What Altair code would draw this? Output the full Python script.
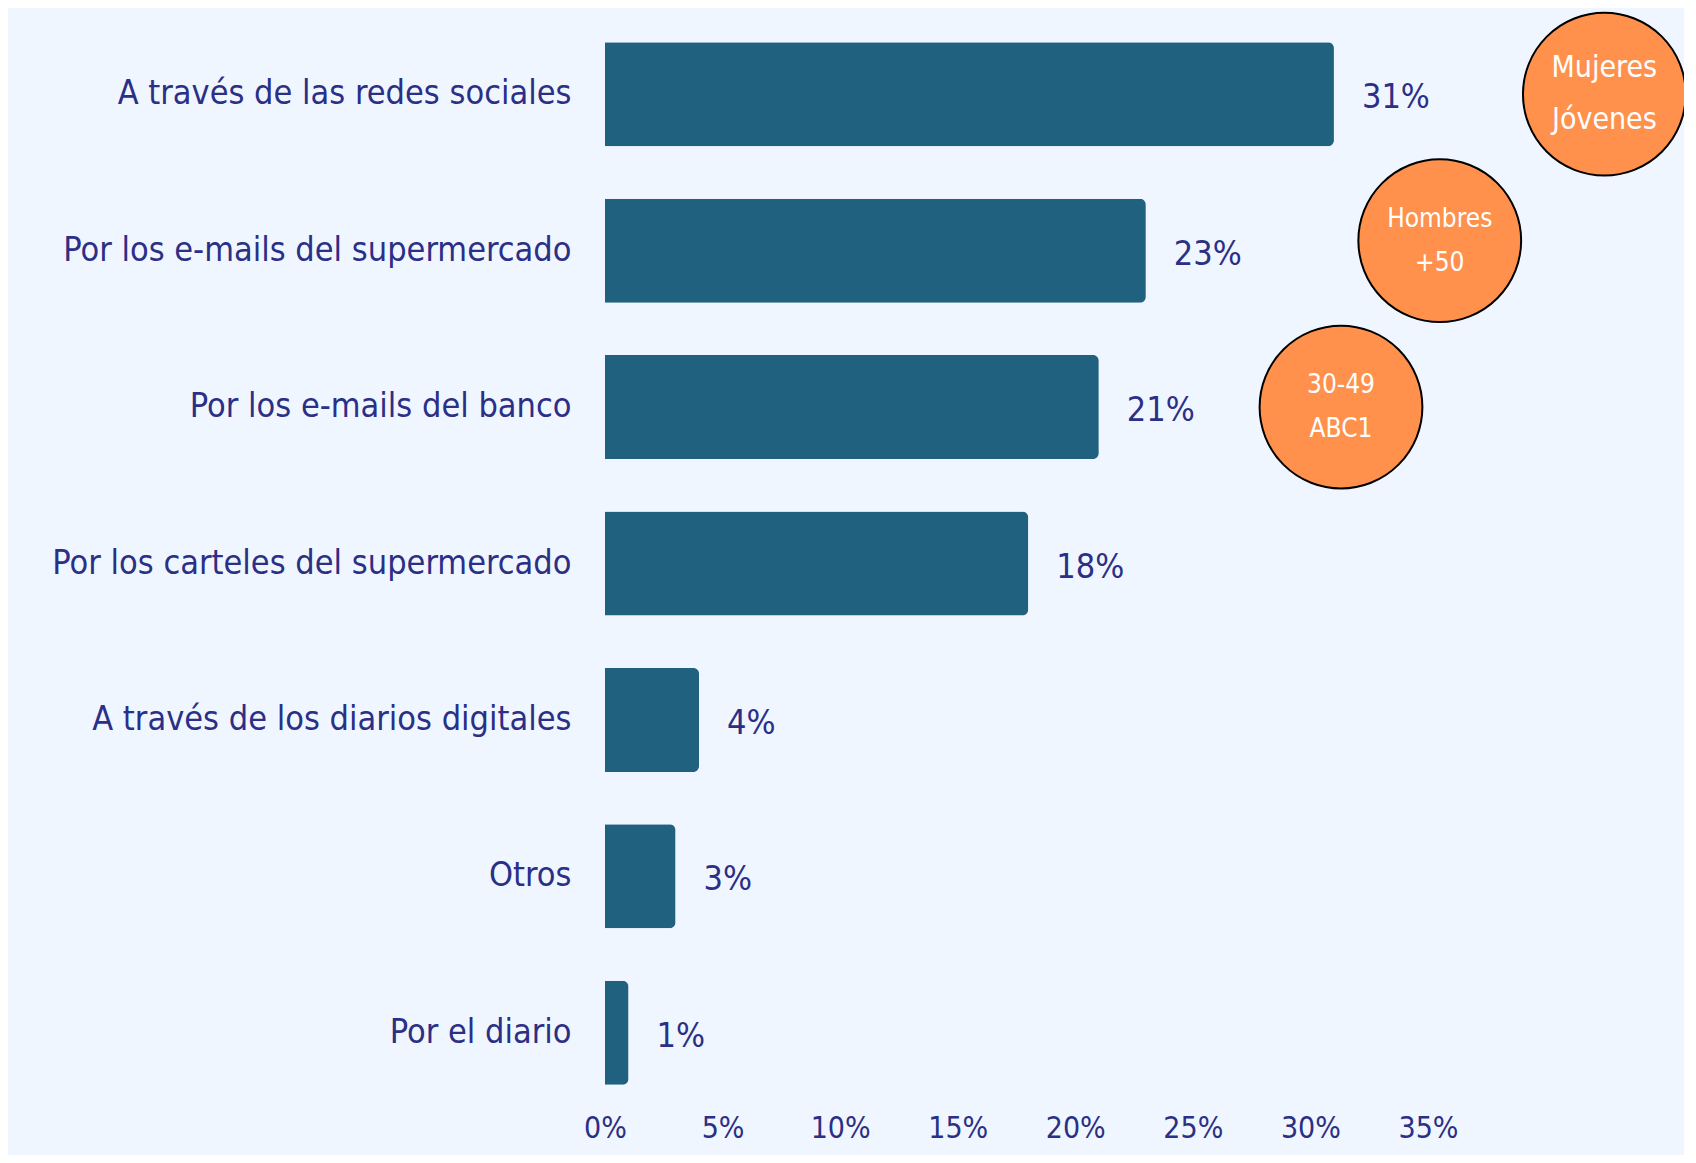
import altair as alt
import pandas as pd

categories = [
    "A través de las redes sociales",
    "Por los e-mails del supermercado",
    "Por los e-mails del banco",
    "Por los carteles del supermercado",
    "A través de los diarios digitales",
    "Otros",
    "Por el diario",
]
values = [31, 23, 21, 18, 4, 3, 1]

bubble_labels = ["Mujeres\nJóvenes", "Hombres\n+50", "30-49\nABC1"]
bubble_rows = [categories[0], categories[1], categories[2]]
bubble_x = [42.5, 35.5, 31.3]
bubble_group = ["big", "raised", "plain"]

df = pd.DataFrame({"cat": categories, "val": values})
df["label"] = [f"{v}%" for v in values]
bub = pd.DataFrame({"cat": bubble_rows, "x": bubble_x, "text": bubble_labels, "grp": bubble_group})

FONT = "DejaVu Sans Condensed, sans-serif"
NAVY = "#2B2F86"
BAR = "#20617F"
ORANGE = "#FF914D"

xscale = alt.Scale(domain=[0, 35], nice=False)
yscale = alt.Scale(domain=categories, paddingInner=0.335, paddingOuter=0.1675)

bars = alt.Chart(df).mark_bar(color=BAR, cornerRadiusEnd=6).encode(
    x=alt.X("val:Q", scale=xscale,
            axis=alt.Axis(values=[0, 5, 10, 15, 20, 25, 30, 35], labelExpr="datum.value + '%'",
                          title=None, grid=False, domain=False, ticks=False, labelFlush=False,
                          labelFont=FONT, labelFontSize=30, labelColor=NAVY,
                          labelPadding=2)),
    y=alt.Y("cat:N", scale=yscale, sort=categories,
            axis=alt.Axis(title=None, domain=False, ticks=False, labelFont=FONT,
                          labelFontSize=34, labelColor=NAVY, labelPadding=34, labelLimit=600)),
)

labels = alt.Chart(df).mark_text(align="left", baseline="middle", dx=28, dy=4,
                                 font=FONT, fontSize=34, color=NAVY).encode(
    x=alt.X("val:Q", scale=xscale),
    y=alt.Y("cat:N", scale=yscale, sort=categories),
    text="label:N",
)

enc = dict(x=alt.X("x:Q", scale=xscale), y=alt.Y("cat:N", scale=yscale, sort=categories))
layers = []
for grp, off, fs, lh in [("big", 0, 30, 52), ("raised", -10, 26, 44), ("plain", 0, 26, 44)]:
    base = alt.Chart(bub).transform_filter(f"datum.grp == '{grp}'")
    layers.append(base.mark_point(shape="circle", filled=True, fill=ORANGE, fillOpacity=1,
                                  stroke="black", strokeWidth=2, size=26500, opacity=1,
                                  yOffset=off).encode(**enc))
    layers.append(base.mark_text(align="center", baseline="middle", lineBreak="\n", font=FONT,
                                 fontSize=fs, lineHeight=lh, dy=off - lh / 2,
                                 color="white").encode(text="text:N", **enc))

chart = alt.layer(bars, labels, *layers).properties(
    width=823, height=1095,
    autosize=alt.AutoSizeParams(type="none"),
    padding={"left": 597, "top": 8, "right": 256, "bottom": 44},
    background="#F0F6FF",
).configure_view(stroke=None)

chart.save("out.html", embed_options={"renderer": "svg", "actions": False})
